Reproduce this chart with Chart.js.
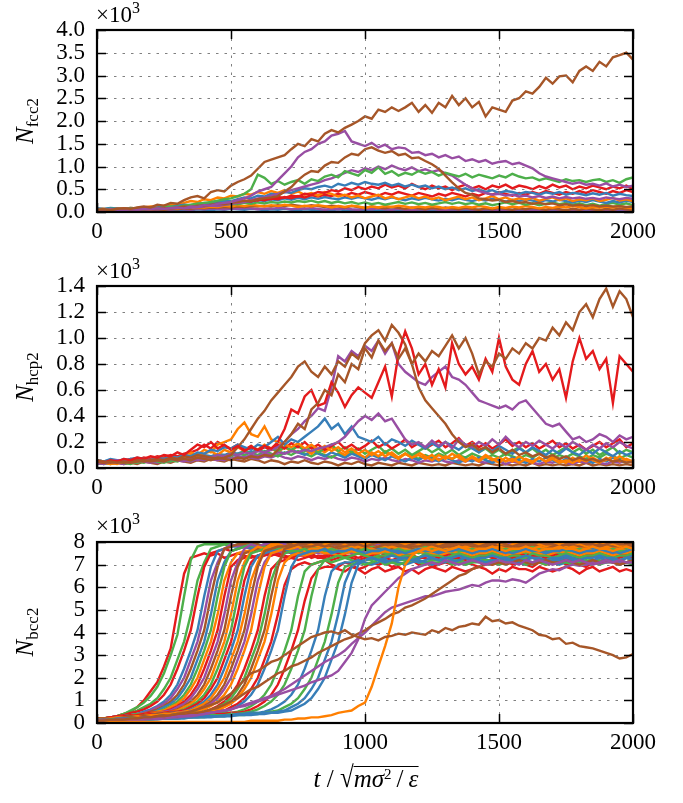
<!DOCTYPE html>
<html>
<head>
<meta charset="utf-8">
<script src="https://cdn.jsdelivr.net/npm/chart.js@4/dist/chart.umd.min.js"></script>
<style>
body{margin:0;background:#fff;}
#fig{position:relative;width:683px;height:803px;overflow:hidden;font-family:'Liberation Serif',serif;color:#000;background:#fff}
canvas{position:absolute;left:0}
.mult{position:absolute;left:96px;font-size:23px;line-height:23px;white-space:nowrap}
.mult .e{position:relative;top:-9px;font-size:16px}
.ylab{position:absolute;white-space:nowrap;transform:translate(-50%,-50%) rotate(-90deg);font-size:25px;line-height:25px}
.ylab .s{font-size:17px;position:relative;top:5px}
.xlab{position:absolute;left:366px;top:766px;transform:translateX(-50%);font-size:25px;line-height:25px;white-space:nowrap}
.xlab .r{display:inline-block;transform:scaleY(1.2);transform-origin:50% 85%}
.xlab .v{display:inline-block;border-top:1.5px solid #000;padding-top:0px;line-height:23px}
.xlab .e{position:relative;top:-8px;font-size:15px;font-style:normal}
</style>
</head>
<body>
<div id="fig">
<canvas id="c1" width="683" height="250" style="top:0"></canvas>
<canvas id="c2" width="683" height="250" style="top:250px"></canvas>
<canvas id="c3" width="683" height="303" style="top:500px"></canvas>
<div class="mult" style="top:3px">×10<span class="e">3</span></div>
<div class="mult" style="top:259px">×10<span class="e">3</span></div>
<div class="mult" style="top:514px">×10<span class="e">3</span></div>
<div class="ylab" style="left:26px;top:121px"><i>N</i><span class="s">fcc2</span></div>
<div class="ylab" style="left:26px;top:377px"><i>N</i><span class="s">hcp2</span></div>
<div class="ylab" style="left:26px;top:632px"><i>N</i><span class="s">bcc2</span></div>
<div class="xlab"><i>t</i> / <span class="r">√</span><span class="v"><i>mσ</i><span class="e">2</span>&#8201;/&#8201;<i>ε</i></span></div>
</div>
<script>
// ---------- categories / ticks ----------
const times = [0,25,50,75,100,125,150,175,200,225,250,275,300,325,350,375,400,425,450,475,
500,525,550,575,600,625,650,675,700,725,750,775,800,825,850,875,900,925,950,975,
1000,1025,1050,1075,1100,1125,1150,1175,1200,1225,1250,1275,1300,1325,1350,1375,1400,1425,1450,1475,
1500,1525,1550,1575,1600,1625,1650,1675,1700,1725,1750,1775,1800,1825,1850,1875,1900,1925,1950,1975,2000];
const xTickValues = [0,500,1000,1500,2000];
const fccTickValues = [0,0.5,1,1.5,2,2.5,3,3.5,4];
const hcpTickValues = [0,0.2,0.4,0.6,0.8,1.0,1.2,1.4];
const bccTickValues = [0,1,2,3,4,5,6,7,8];

// ---------- N_fcc2 (x10^3) ----------
const fccBrown1 = [0.05,0.06,0.04,0.07,0.08,0.07,0.10,0.12,0.10,0.16,
0.14,0.20,0.18,0.26,0.32,0.35,0.30,0.44,0.48,0.45,
0.58,0.66,0.72,0.80,0.95,1.10,1.15,1.20,1.25,1.38,
1.50,1.45,1.60,1.55,1.72,1.80,1.75,1.85,1.92,2.00,
2.10,2.05,2.25,2.20,2.30,2.22,2.30,2.40,2.20,2.35,
2.18,2.40,2.30,2.55,2.35,2.50,2.30,2.42,2.10,2.30,
2.25,2.20,2.45,2.50,2.65,2.60,2.75,2.95,2.82,2.98,
3.00,2.85,3.10,3.20,3.10,3.30,3.20,3.40,3.45,3.50,3.35];
const fccPurple1 = [0.05,0.04,0.06,0.05,0.04,0.06,0.05,0.07,0.06,0.08,
0.07,0.09,0.10,0.08,0.12,0.11,0.15,0.14,0.18,0.20,
0.22,0.26,0.30,0.36,0.45,0.50,0.55,0.70,0.85,1.00,
1.20,1.32,1.38,1.50,1.55,1.68,1.72,1.78,1.55,1.50,
1.45,1.52,1.42,1.48,1.38,1.42,1.40,1.30,1.32,1.25,
1.28,1.20,1.25,1.18,1.22,1.12,1.16,1.10,1.14,1.06,
1.10,1.12,1.05,1.08,1.02,0.96,0.85,0.78,0.74,0.70,
0.66,0.62,0.65,0.60,0.62,0.58,0.63,0.56,0.60,0.55,0.58];
const fccBrown2 = [0.04,0.05,0.03,0.05,0.06,0.05,0.07,0.06,0.08,0.07,
0.09,0.08,0.10,0.12,0.11,0.14,0.13,0.16,0.18,0.17,
0.20,0.22,0.25,0.24,0.28,0.30,0.32,0.35,0.45,0.55,
0.70,0.82,0.90,0.88,1.02,1.10,1.08,1.20,1.28,1.25,
1.38,1.42,1.35,1.30,1.34,1.25,1.28,1.18,1.20,1.12,
1.05,0.95,0.80,0.65,0.52,0.42,0.38,0.30,0.28,0.25,
0.27,0.22,0.24,0.20,0.22,0.18,0.20,0.17,0.19,0.15,
0.17,0.14,0.16,0.13,0.15,0.12,0.14,0.12,0.13,0.11,0.12];
const fccGreen1 = [0.06,0.05,0.07,0.06,0.05,0.07,0.08,0.06,0.09,0.08,
0.10,0.12,0.11,0.14,0.16,0.18,0.20,0.22,0.25,0.28,
0.30,0.35,0.40,0.50,0.82,0.75,0.62,0.68,0.60,0.66,
0.70,0.62,0.72,0.68,0.78,0.82,0.76,0.90,0.85,0.80,
0.92,0.86,0.98,0.84,0.90,0.80,0.86,0.82,0.90,0.84,
0.88,0.80,0.86,0.82,0.78,0.84,0.76,0.82,0.78,0.74,
0.80,0.76,0.84,0.78,0.74,0.76,0.70,0.74,0.70,0.66,
0.72,0.68,0.70,0.66,0.70,0.72,0.66,0.70,0.64,0.72,0.76];
const fccBlue1 = [0.07,0.06,0.08,0.07,0.06,0.08,0.07,0.09,0.08,0.10,
0.12,0.11,0.14,0.16,0.15,0.18,0.20,0.19,0.22,0.25,
0.24,0.28,0.32,0.30,0.36,0.34,0.40,0.38,0.44,0.42,
0.48,0.52,0.50,0.55,0.58,0.54,0.62,0.58,0.64,0.60,
0.66,0.62,0.60,0.64,0.58,0.62,0.56,0.60,0.55,0.58,
0.52,0.56,0.50,0.54,0.48,0.52,0.46,0.50,0.44,0.48,
0.42,0.46,0.44,0.40,0.44,0.42,0.38,0.43,0.40,0.44,
0.38,0.42,0.40,0.37,0.41,0.38,0.42,0.36,0.40,0.37,0.35];
const fccRed1 = [0.05,0.04,0.06,0.05,0.07,0.06,0.08,0.07,0.09,0.08,
0.11,0.10,0.13,0.12,0.15,0.14,0.17,0.16,0.19,0.21,
0.20,0.24,0.22,0.27,0.25,0.30,0.28,0.33,0.31,0.36,
0.34,0.40,0.38,0.44,0.42,0.48,0.45,0.52,0.48,0.55,
0.50,0.56,0.52,0.60,0.54,0.58,0.52,0.62,0.55,0.50,
0.58,0.52,0.56,0.48,0.55,0.60,0.52,0.57,0.50,0.58,
0.54,0.60,0.52,0.58,0.55,0.50,0.57,0.52,0.60,0.54,
0.58,0.50,0.56,0.52,0.58,0.54,0.50,0.56,0.52,0.58,0.50];
const fccPurple2 = [0.04,0.05,0.04,0.06,0.05,0.04,0.06,0.05,0.07,0.06,
0.08,0.07,0.09,0.10,0.09,0.11,0.12,0.14,0.13,0.16,
0.18,0.20,0.22,0.26,0.30,0.32,0.36,0.40,0.44,0.48,
0.52,0.56,0.60,0.64,0.70,0.74,0.80,0.86,0.92,0.88,
0.96,0.92,1.00,0.94,1.02,0.96,0.92,0.98,0.90,0.94,
0.88,0.92,0.85,0.80,0.70,0.60,0.52,0.46,0.42,0.38,
0.40,0.36,0.38,0.34,0.36,0.32,0.35,0.31,0.34,0.30,
0.33,0.30,0.32,0.29,0.31,0.28,0.32,0.30,0.28,0.31,0.29];
const fccOrange1 = [0.06,0.07,0.05,0.08,0.07,0.09,0.08,0.10,0.12,0.11,
0.14,0.16,0.15,0.20,0.24,0.22,0.28,0.26,0.32,0.30,
0.36,0.34,0.40,0.38,0.44,0.40,0.46,0.42,0.48,0.40,
0.45,0.38,0.42,0.36,0.44,0.40,0.34,0.38,0.32,0.36,
0.30,0.34,0.38,0.30,0.34,0.28,0.32,0.36,0.30,0.34,
0.28,0.32,0.26,0.30,0.34,0.28,0.32,0.26,0.30,0.35,
0.28,0.32,0.26,0.30,0.27,0.31,0.25,0.29,0.32,0.26,
0.30,0.24,0.28,0.26,0.30,0.24,0.27,0.31,0.25,0.28,0.24];
const fccRed2 = [0.05,0.06,0.05,0.07,0.06,0.08,0.07,0.09,0.08,0.10,
0.09,0.12,0.11,0.14,0.13,0.16,0.15,0.18,0.17,0.20,
0.22,0.20,0.25,0.23,0.28,0.26,0.30,0.28,0.33,0.30,
0.35,0.32,0.37,0.34,0.38,0.35,0.40,0.36,0.42,0.38,
0.44,0.40,0.36,0.42,0.38,0.44,0.40,0.36,0.42,0.38,
0.34,0.40,0.36,0.42,0.38,0.34,0.40,0.36,0.42,0.38,
0.44,0.40,0.36,0.42,0.38,0.44,0.40,0.46,0.42,0.38,
0.44,0.40,0.46,0.42,0.48,0.44,0.40,0.46,0.42,0.48,0.44];
const fccBlue2 = [0.08,0.07,0.09,0.08,0.07,0.09,0.08,0.10,0.09,0.11,
0.10,0.12,0.14,0.13,0.15,0.14,0.17,0.16,0.19,0.18,
0.21,0.20,0.24,0.22,0.26,0.24,0.28,0.26,0.30,0.27,
0.31,0.28,0.32,0.29,0.33,0.30,0.28,0.32,0.29,0.33,
0.30,0.27,0.31,0.28,0.32,0.29,0.26,0.30,0.27,0.31,
0.28,0.25,0.29,0.26,0.30,0.27,0.24,0.28,0.25,0.29,
0.26,0.23,0.27,0.24,0.28,0.25,0.22,0.26,0.23,0.27,
0.24,0.21,0.25,0.22,0.26,0.23,0.20,0.24,0.21,0.25,0.22];
const fccGreen2 = [0.06,0.05,0.07,0.06,0.08,0.07,0.09,0.08,0.10,0.09,
0.11,0.10,0.12,0.11,0.14,0.13,0.15,0.14,0.17,0.16,
0.18,0.17,0.20,0.18,0.21,0.19,0.22,0.20,0.23,0.21,
0.24,0.22,0.25,0.21,0.24,0.20,0.23,0.19,0.22,0.18,
0.21,0.17,0.20,0.16,0.19,0.22,0.18,0.21,0.17,0.20,
0.16,0.19,0.22,0.18,0.21,0.17,0.20,0.16,0.19,0.15,
0.18,0.21,0.17,0.20,0.16,0.19,0.15,0.18,0.21,0.17,
0.20,0.16,0.19,0.15,0.18,0.14,0.17,0.20,0.16,0.19,0.15];
const fccBrown3 = [0.03,0.04,0.03,0.05,0.04,0.05,0.04,0.06,0.05,0.06,
0.05,0.07,0.06,0.08,0.07,0.09,0.08,0.10,0.09,0.11,
0.10,0.12,0.11,0.13,0.12,0.14,0.12,0.15,0.13,0.16,
0.14,0.12,0.15,0.13,0.11,0.14,0.12,0.10,0.13,0.11,
0.09,0.12,0.10,0.08,0.11,0.09,0.07,0.10,0.08,0.06,
0.09,0.07,0.10,0.08,0.06,0.09,0.07,0.05,0.08,0.06,
0.09,0.07,0.05,0.08,0.06,0.09,0.07,0.05,0.08,0.06,
0.04,0.07,0.05,0.08,0.06,0.04,0.07,0.05,0.08,0.06,0.04];
const fccOrange2 = [0.05,0.04,0.06,0.05,0.07,0.06,0.05,0.07,0.06,0.08,
0.07,0.09,0.08,0.10,0.09,0.11,0.10,0.12,0.11,0.14,
0.12,0.15,0.13,0.16,0.14,0.12,0.15,0.13,0.16,0.14,
0.11,0.14,0.12,0.15,0.13,0.10,0.13,0.11,0.14,0.12,
0.09,0.12,0.10,0.13,0.11,0.14,0.12,0.09,0.12,0.10,
0.13,0.11,0.08,0.11,0.09,0.12,0.10,0.13,0.11,0.08,
0.11,0.09,0.12,0.10,0.13,0.11,0.08,0.11,0.09,0.12,
0.10,0.13,0.11,0.08,0.11,0.09,0.12,0.10,0.13,0.10,0.08];
const fccPurple3 = [0.04,0.03,0.05,0.04,0.03,0.05,0.04,0.06,0.05,0.04,
0.06,0.05,0.07,0.06,0.05,0.07,0.06,0.08,0.07,0.06,
0.08,0.07,0.09,0.08,0.06,0.08,0.07,0.09,0.08,0.06,
0.08,0.07,0.09,0.07,0.05,0.07,0.06,0.08,0.06,0.05,
0.07,0.06,0.08,0.06,0.05,0.07,0.05,0.04,0.06,0.05,
0.07,0.05,0.04,0.06,0.05,0.07,0.05,0.04,0.06,0.05,
0.03,0.05,0.04,0.06,0.05,0.03,0.05,0.04,0.06,0.04,
0.03,0.05,0.04,0.06,0.04,0.03,0.05,0.04,0.06,0.04,0.03];
const fccBlue3 = [0.02,0.03,0.02,0.03,0.02,0.04,0.03,0.02,0.04,0.03,
0.05,0.04,0.03,0.05,0.04,0.06,0.05,0.04,0.06,0.05,
0.07,0.06,0.05,0.07,0.06,0.04,0.06,0.05,0.07,0.05,
0.04,0.06,0.05,0.03,0.05,0.04,0.06,0.04,0.03,0.05,
0.04,0.02,0.04,0.03,0.05,0.03,0.02,0.04,0.03,0.05,
0.03,0.02,0.04,0.03,0.02,0.04,0.03,0.05,0.03,0.02,
0.04,0.03,0.02,0.04,0.03,0.05,0.03,0.02,0.04,0.03,
0.02,0.04,0.03,0.02,0.04,0.03,0.02,0.04,0.03,0.02,0.03];

// ---------- N_hcp2 (x10^3) ----------
const hcpBrown1 = [0.05,0.04,0.05,0.04,0.05,0.04,0.05,0.06,0.05,0.06,
0.05,0.07,0.06,0.07,0.06,0.08,0.07,0.06,0.08,0.07,
0.06,0.08,0.07,0.09,0.08,0.10,0.09,0.14,0.20,0.26,
0.34,0.30,0.45,0.50,0.60,0.56,0.72,0.66,0.80,0.76,
0.92,0.85,0.98,0.90,0.96,0.84,0.92,0.80,0.88,0.82,
0.90,0.86,0.94,1.02,0.92,1.00,0.88,0.72,0.82,0.78,
0.88,0.84,0.92,0.88,0.96,0.92,1.00,0.98,1.08,1.02,
1.12,1.06,1.20,1.26,1.16,1.30,1.38,1.24,1.36,1.30,1.16];
const hcpBrown2 = [0.06,0.05,0.04,0.05,0.04,0.05,0.06,0.05,0.06,0.07,
0.06,0.08,0.07,0.09,0.08,0.10,0.09,0.08,0.07,0.08,
0.10,0.16,0.22,0.30,0.38,0.44,0.52,0.58,0.64,0.70,
0.78,0.82,0.74,0.70,0.78,0.72,0.82,0.78,0.88,0.84,
0.96,1.02,1.06,0.98,1.10,1.04,0.95,0.80,0.62,0.52,
0.46,0.40,0.34,0.26,0.20,0.16,0.18,0.14,0.16,0.12,
0.15,0.11,0.14,0.10,0.12,0.09,0.11,0.08,0.10,0.07,
0.09,0.06,0.08,0.06,0.07,0.05,0.07,0.05,0.06,0.04,0.05];
const hcpRed1 = [0.05,0.04,0.06,0.05,0.07,0.06,0.08,0.07,0.09,0.08,
0.10,0.09,0.12,0.10,0.14,0.18,0.16,0.20,0.15,0.18,
0.14,0.17,0.13,0.16,0.14,0.17,0.15,0.20,0.30,0.45,
0.42,0.55,0.60,0.48,0.50,0.66,0.58,0.47,0.56,0.62,
0.58,0.54,0.66,0.78,0.55,0.88,1.05,0.92,0.72,0.80,
0.64,0.76,0.62,0.96,0.80,0.72,0.78,0.68,0.84,0.74,
1.00,0.78,0.68,0.64,0.80,0.90,0.74,0.80,0.68,0.76,
0.54,0.82,1.00,0.84,0.90,0.76,0.84,0.50,0.86,0.80,0.74];
const hcpPurple1 = [0.05,0.04,0.05,0.06,0.05,0.06,0.05,0.07,0.06,0.07,
0.06,0.08,0.07,0.06,0.08,0.07,0.09,0.08,0.10,0.09,
0.11,0.10,0.12,0.11,0.13,0.12,0.14,0.16,0.20,0.26,
0.30,0.36,0.40,0.46,0.44,0.62,0.86,0.82,0.90,0.86,
0.94,0.90,0.98,0.88,0.96,0.80,0.74,0.70,0.66,0.64,
0.70,0.74,0.78,0.70,0.68,0.64,0.58,0.52,0.50,0.48,
0.46,0.48,0.45,0.50,0.52,0.46,0.40,0.34,0.32,0.34,
0.28,0.22,0.24,0.20,0.22,0.26,0.24,0.20,0.25,0.22,0.24];
const hcpPurple2 = [0.04,0.03,0.05,0.04,0.05,0.04,0.06,0.05,0.04,0.06,
0.05,0.07,0.06,0.05,0.07,0.06,0.08,0.07,0.06,0.08,
0.07,0.09,0.08,0.10,0.09,0.11,0.10,0.12,0.11,0.13,
0.12,0.14,0.13,0.15,0.16,0.18,0.20,0.24,0.30,0.36,
0.40,0.37,0.42,0.36,0.38,0.30,0.22,0.18,0.20,0.16,
0.21,0.17,0.20,0.15,0.22,0.18,0.16,0.20,0.17,0.22,
0.18,0.24,0.19,0.16,0.20,0.17,0.21,0.18,0.15,0.19,
0.16,0.20,0.17,0.14,0.18,0.15,0.19,0.16,0.20,0.17,0.15];
const hcpBlue1 = [0.06,0.05,0.07,0.06,0.05,0.07,0.08,0.07,0.06,0.08,
0.07,0.09,0.08,0.10,0.09,0.12,0.11,0.14,0.13,0.16,
0.15,0.18,0.16,0.14,0.18,0.16,0.20,0.24,0.18,0.22,
0.20,0.24,0.28,0.32,0.38,0.30,0.34,0.26,0.32,0.24,
0.22,0.20,0.24,0.18,0.22,0.20,0.17,0.21,0.18,0.15,
0.19,0.16,0.20,0.17,0.14,0.18,0.15,0.12,0.16,0.13,
0.17,0.14,0.11,0.15,0.12,0.16,0.13,0.10,0.14,0.11,
0.15,0.12,0.10,0.14,0.11,0.15,0.12,0.09,0.13,0.10,0.12];
const hcpOrange1 = [0.05,0.04,0.03,0.04,0.05,0.06,0.05,0.07,0.06,0.08,
0.07,0.09,0.08,0.10,0.12,0.10,0.14,0.12,0.18,0.20,
0.22,0.30,0.35,0.26,0.24,0.32,0.22,0.20,0.18,0.16,
0.19,0.15,0.18,0.14,0.17,0.13,0.16,0.12,0.15,0.11,
0.14,0.10,0.13,0.09,0.12,0.08,0.11,0.08,0.10,0.07,
0.10,0.06,0.09,0.07,0.10,0.06,0.08,0.05,0.09,0.06,
0.08,0.05,0.07,0.04,0.07,0.05,0.08,0.05,0.07,0.04,
0.06,0.04,0.07,0.05,0.08,0.05,0.06,0.09,0.05,0.07,0.05];
const hcpRed2 = [0.04,0.05,0.04,0.06,0.05,0.07,0.06,0.08,0.07,0.09,
0.08,0.10,0.09,0.11,0.12,0.14,0.18,0.15,0.20,0.17,
0.15,0.18,0.14,0.17,0.13,0.16,0.14,0.18,0.15,0.19,
0.16,0.20,0.15,0.18,0.14,0.17,0.20,0.15,0.18,0.14,
0.17,0.21,0.16,0.19,0.15,0.18,0.22,0.16,0.19,0.15,
0.18,0.21,0.16,0.19,0.23,0.17,0.20,0.16,0.19,0.15,
0.18,0.22,0.17,0.20,0.16,0.19,0.15,0.18,0.21,0.16,
0.19,0.15,0.18,0.14,0.17,0.20,0.16,0.19,0.22,0.16,0.19];
const hcpGreen1 = [0.05,0.04,0.05,0.04,0.06,0.05,0.04,0.06,0.05,0.07,
0.06,0.05,0.07,0.06,0.08,0.07,0.09,0.08,0.10,0.09,
0.11,0.10,0.13,0.11,0.14,0.12,0.15,0.13,0.16,0.14,
0.17,0.13,0.16,0.12,0.15,0.18,0.13,0.16,0.12,0.15,
0.11,0.14,0.17,0.12,0.15,0.11,0.14,0.10,0.13,0.16,
0.12,0.15,0.11,0.14,0.10,0.13,0.16,0.12,0.15,0.11,
0.14,0.10,0.13,0.16,0.12,0.15,0.11,0.14,0.10,0.13,
0.16,0.12,0.15,0.11,0.14,0.10,0.13,0.16,0.11,0.14,0.12];
const hcpOrange2 = [0.04,0.05,0.04,0.03,0.05,0.04,0.06,0.05,0.07,0.06,
0.08,0.07,0.09,0.08,0.10,0.09,0.11,0.13,0.10,0.14,
0.12,0.16,0.13,0.17,0.14,0.18,0.15,0.12,0.16,0.13,
0.17,0.14,0.11,0.15,0.12,0.16,0.13,0.10,0.14,0.11,
0.08,0.12,0.09,0.13,0.10,0.07,0.11,0.08,0.12,0.09,
0.06,0.10,0.07,0.11,0.08,0.05,0.09,0.06,0.10,0.07,
0.04,0.08,0.05,0.09,0.06,0.04,0.08,0.05,0.09,0.06,
0.04,0.08,0.05,0.10,0.06,0.04,0.08,0.05,0.09,0.06,0.04];
const hcpBlue2 = [0.06,0.05,0.06,0.05,0.07,0.06,0.05,0.07,0.06,0.08,
0.07,0.06,0.08,0.07,0.09,0.08,0.10,0.09,0.11,0.10,
0.12,0.11,0.13,0.12,0.14,0.12,0.15,0.13,0.11,0.14,
0.12,0.10,0.13,0.11,0.09,0.12,0.10,0.08,0.11,0.09,
0.07,0.10,0.08,0.06,0.09,0.07,0.05,0.08,0.06,0.09,
0.07,0.05,0.08,0.06,0.04,0.07,0.05,0.08,0.06,0.04,
0.07,0.05,0.08,0.06,0.04,0.07,0.05,0.08,0.06,0.04,
0.07,0.05,0.08,0.06,0.04,0.07,0.05,0.08,0.06,0.04,0.06];
const hcpGreen2 = [0.04,0.03,0.04,0.05,0.04,0.03,0.05,0.04,0.06,0.05,
0.04,0.06,0.05,0.07,0.06,0.08,0.07,0.09,0.08,0.10,
0.09,0.11,0.10,0.12,0.10,0.13,0.11,0.09,0.12,0.10,
0.13,0.11,0.09,0.12,0.10,0.08,0.11,0.09,0.12,0.10,
0.08,0.11,0.09,0.12,0.10,0.08,0.11,0.09,0.07,0.10,
0.08,0.11,0.09,0.07,0.10,0.08,0.11,0.09,0.07,0.10,
0.08,0.11,0.09,0.07,0.10,0.08,0.11,0.09,0.07,0.10,
0.08,0.11,0.09,0.07,0.10,0.08,0.11,0.09,0.07,0.10,0.08];
const hcpPurple3 = [0.03,0.04,0.05,0.04,0.03,0.05,0.04,0.06,0.05,0.04,
0.06,0.05,0.07,0.06,0.05,0.07,0.06,0.08,0.07,0.06,
0.08,0.07,0.09,0.08,0.07,0.09,0.08,0.10,0.08,0.07,
0.09,0.08,0.06,0.08,0.07,0.09,0.07,0.06,0.08,0.07,
0.05,0.07,0.06,0.08,0.06,0.05,0.07,0.06,0.04,0.06,
0.05,0.07,0.05,0.04,0.06,0.05,0.07,0.05,0.04,0.06,
0.05,0.03,0.05,0.04,0.06,0.04,0.03,0.05,0.04,0.06,
0.04,0.03,0.05,0.04,0.06,0.04,0.03,0.05,0.04,0.06,0.04];
const hcpBrown3 = [0.03,0.04,0.03,0.04,0.03,0.04,0.03,0.05,0.04,0.03,
0.05,0.04,0.06,0.05,0.04,0.06,0.05,0.07,0.06,0.05,
0.07,0.06,0.05,0.07,0.06,0.04,0.06,0.05,0.03,0.05,
0.04,0.06,0.04,0.03,0.05,0.04,0.02,0.04,0.03,0.05,
0.03,0.02,0.04,0.03,0.02,0.04,0.03,0.02,0.04,0.03,
0.02,0.03,0.02,0.04,0.03,0.02,0.03,0.02,0.04,0.03,
0.02,0.03,0.02,0.03,0.02,0.04,0.02,0.03,0.02,0.03,
0.02,0.03,0.02,0.04,0.02,0.03,0.02,0.03,0.02,0.03,0.02];

// ---------- N_bcc2 (x10^3) ----------
const bccBrownSlowA = [0.1,0.1,0.15,0.15,0.15,0.2,0.2,0.25,0.25,0.3,
0.3,0.35,0.4,0.45,0.5,0.6,0.7,0.8,0.9,1.1,
1.3,1.6,1.9,2.2,2.3,2.5,2.7,2.8,3.0,3.2,
3.4,3.6,3.8,3.9,4.0,4.05,3.95,4.1,3.9,3.8,
3.7,3.75,3.65,3.8,3.85,3.95,3.9,4.0,3.95,3.9,
4.1,4.0,4.2,4.1,4.25,4.3,4.4,4.35,4.7,4.5,
4.55,4.4,4.45,4.3,4.2,4.1,3.9,3.85,3.7,3.75,
3.5,3.55,3.4,3.35,3.3,3.2,3.1,3.0,2.85,2.9,3.05];
const bccBrownSlowB = [0.1,0.1,0.1,0.15,0.15,0.15,0.2,0.2,0.2,0.25,
0.25,0.3,0.3,0.35,0.4,0.45,0.5,0.6,0.7,0.8,
0.95,1.1,1.3,1.5,1.6,1.8,2.0,2.2,2.3,2.5,
2.6,2.75,2.9,3.1,3.25,3.4,3.55,3.7,3.8,3.95,
4.1,4.3,4.45,4.6,4.8,4.9,5.1,5.2,5.35,5.5,
5.7,5.9,6.1,6.3,6.5,6.6,6.8,6.9,7.0,7.0,
7.1,7.0,7.1,7.2,7.1,7.0,7.1,7.2,7.1,7.1,
7.2,7.1,7.0,7.1,7.2,7.1,7.2,7.1,7.0,7.1,7.2];
const bccPurpleSlowA = [0.1,0.1,0.1,0.15,0.15,0.15,0.15,0.2,0.2,0.2,
0.25,0.25,0.3,0.3,0.35,0.35,0.4,0.45,0.5,0.55,
0.6,0.7,0.75,0.85,0.95,1.05,1.15,1.25,1.35,1.45,
1.55,1.65,1.8,1.9,2.0,2.1,2.3,2.7,3.1,3.7,
4.6,5.2,5.5,5.8,6.1,6.4,6.6,6.8,6.9,7.0,
7.1,7.0,7.2,7.1,7.0,7.1,7.2,7.1,7.0,7.1,
7.2,7.1,7.1,7.0,7.2,7.1,7.2,7.1,7.0,7.1,
7.2,7.1,7.2,7.1,7.0,7.1,7.2,7.1,7.2,7.1,7.1];
const bccPurpleSlowB = [0.1,0.1,0.1,0.1,0.15,0.15,0.15,0.15,0.2,0.2,
0.2,0.25,0.25,0.3,0.3,0.35,0.4,0.45,0.5,0.55,
0.6,0.7,0.8,0.9,1.0,1.1,1.2,1.35,1.5,1.7,
1.9,2.1,2.3,2.5,2.7,2.85,3.0,3.2,3.5,3.75,
4.0,4.3,4.6,4.9,5.1,5.2,5.3,5.4,5.5,5.6,
5.6,5.7,5.8,5.85,5.9,6.0,6.1,6.05,6.2,6.3,
6.3,6.25,6.35,6.3,6.2,6.4,6.6,6.7,6.8,6.75,
6.9,7.0,6.95,7.0,7.1,7.05,7.1,7.1,7.05,7.1,7.1];
const bccOrangeLate = [0.05,0.05,0.05,0.05,0.05,0.05,0.05,0.05,0.05,0.05,
0.05,0.05,0.05,0.05,0.05,0.05,0.05,0.05,0.05,0.05,
0.05,0.05,0.05,0.1,0.1,0.1,0.1,0.1,0.15,0.15,
0.2,0.2,0.25,0.25,0.3,0.35,0.45,0.5,0.55,0.75,
0.9,1.6,2.5,3.4,4.4,6.0,7.0,7.4,7.6,7.7,
7.6,7.7,7.6,7.7,7.8,7.7,7.6,7.7,7.7,7.8,
7.7,7.6,7.7,7.7,7.8,7.7,7.6,7.7,7.7,7.8,
7.7,7.7,7.6,7.7,7.8,7.7,7.7,7.6,7.7,7.8,7.7];
const bcc01 = [0.15,0.15,0.2,0.3,0.4,0.5,0.7,1.0,1.4,1.8,2.5,3.3,5.0,6.6,7.3,7.4,
7.5,7.4,7.5,7.3,7.4,7.5,7.4,7.3,7.4,7.5,
7.4,7.5,7.4,7.3,7.4,7.4,7.5,7.3,7.4,7.5,
7.4,7.3,7.4,7.5,7.4,7.4,7.3,7.5,7.4,7.4,
7.5,7.4,7.3,7.4,7.5,7.4,7.3,7.4,7.4,7.5,
7.4,7.3,7.4,7.5,7.4,7.4,7.3,7.4,7.5,7.4,
7.4,7.3,7.5,7.4,7.4,7.5,7.3,7.4,7.4,7.5,
7.4,7.3,7.4,7.5,7.4];
const bcc02 = [0.15,0.2,0.25,0.3,0.4,0.55,0.7,0.9,1.2,1.6,2.2,3.0,3.9,5.6,7.2,7.8,
7.9,7.9,7.9,7.9,7.8,7.9,8.0,7.9,7.9,7.8,
7.9,7.9,7.9,8.0,7.9,7.8,7.9,7.9,7.9,7.8,
7.9,8.0,7.9,7.9,7.8,7.9,7.9,8.0,7.9,7.9,
7.8,7.9,7.9,7.9,8.0,7.9,7.8,7.9,7.9,7.9,
7.8,7.9,7.9,8.0,7.9,7.9,7.8,7.9,7.9,7.9,
8.0,7.9,7.9,7.8,7.9,7.9,7.9,8.0,7.9,7.8,
7.9,7.9,7.9,7.8,7.9];
const bcc03 = [0.15,0.2,0.25,0.3,0.4,0.45,0.55,0.7,0.85,1.1,1.5,2.0,2.8,3.6,4.8,6.3,7.1,7.7,
7.8,7.9,7.9,7.8,7.9,7.8,7.8,7.9,7.9,7.8,
7.9,7.8,7.9,7.9,7.8,7.8,7.9,7.8,7.9,7.9,
7.8,7.9,7.8,7.8,7.9,7.9,7.8,7.9,7.8,7.9,
7.9,7.8,7.8,7.9,7.8,7.9,7.9,7.8,7.9,7.8,
7.8,7.9,7.9,7.8,7.9,7.8,7.8,7.9,7.8,7.9,
7.9,7.8,7.9,7.8,7.8,7.9,7.9,7.8,7.9,7.8,
7.9,7.8,7.9];
const bcc04 = [0.2,0.2,0.25,0.3,0.35,0.45,0.5,0.6,0.75,0.95,1.25,1.7,2.4,3.2,4.1,5.6,6.9,7.5,7.6,
7.7,7.6,7.7,7.8,7.7,7.6,7.7,7.7,7.8,7.6,
7.7,7.7,7.6,7.8,7.7,7.6,7.7,7.8,7.7,7.7,
7.6,7.7,7.8,7.7,7.6,7.7,7.7,7.8,7.7,7.6,
7.7,7.8,7.7,7.6,7.7,7.7,7.8,7.6,7.7,7.7,
7.8,7.7,7.6,7.7,7.7,7.8,7.7,7.6,7.7,7.8,
7.7,7.6,7.7,7.7,7.8,7.7,7.6,7.7,7.7,7.8,
7.7,7.6];
const bcc05 = [0.15,0.2,0.2,0.25,0.3,0.35,0.4,0.5,0.6,0.75,0.95,1.25,1.7,2.4,3.2,4.1,5.6,6.9,7.6,7.7,
7.8,7.8,7.9,7.7,7.8,7.8,7.9,7.8,7.7,7.8,
7.8,7.9,7.8,7.8,7.7,7.8,7.9,7.8,7.8,7.7,
7.8,7.8,7.9,7.8,7.7,7.8,7.8,7.9,7.8,7.8,
7.7,7.8,7.9,7.8,7.8,7.7,7.8,7.8,7.9,7.8,
7.8,7.7,7.8,7.9,7.8,7.8,7.7,7.8,7.8,7.9,
7.8,7.7,7.8,7.8,7.9,7.8,7.8,7.7,7.8,7.9,
7.8];
const bcc06 = [0.2,0.2,0.25,0.3,0.3,0.35,0.4,0.45,0.55,0.7,0.85,1.1,1.5,2.0,2.8,3.6,4.8,6.3,7.1,7.7,
7.9,7.8,7.9,7.9,7.8,7.9,7.8,7.9,7.9,7.8,
7.9,7.9,7.8,7.9,7.8,7.9,7.9,7.8,7.9,7.9,
7.8,7.9,7.9,7.8,7.9,7.8,7.9,7.9,7.8,7.9,
7.9,7.8,7.9,7.8,7.9,7.9,7.8,7.9,7.9,7.8,
7.9,7.8,7.9,7.9,7.8,7.9,7.9,7.8,7.9,7.8,
7.9,7.9,7.8,7.9,7.9,7.8,7.9,7.8,7.9,7.9,
7.8];
const bcc07 = [0.15,0.15,0.2,0.25,0.3,0.3,0.35,0.4,0.5,0.6,0.75,0.95,1.25,1.7,2.4,3.2,4.1,5.6,6.9,7.7,7.8,
7.9,7.9,8.0,7.9,7.8,7.9,7.9,8.0,7.9,7.9,
7.8,7.9,8.0,7.9,7.9,7.9,7.8,7.9,8.0,7.9,
7.9,7.8,7.9,7.9,8.0,7.9,7.9,7.8,7.9,7.9,
8.0,7.9,7.8,7.9,7.9,7.9,8.0,7.9,7.9,7.8,
7.9,7.9,8.0,7.9,7.9,7.8,7.9,8.0,7.9,7.9,
7.9,7.8,7.9,8.0,7.9,7.9,7.8,7.9,7.9,8.0];
const bcc08 = [0.15,0.2,0.2,0.25,0.3,0.35,0.35,0.4,0.45,0.55,0.7,0.85,1.1,1.5,2.0,2.8,3.6,4.8,6.3,7.1,7.6,
7.7,7.8,7.7,7.6,7.7,7.7,7.8,7.7,7.6,7.7,
7.8,7.7,7.7,7.6,7.7,7.8,7.7,7.7,7.6,7.7,
7.7,7.8,7.6,7.7,7.7,7.8,7.7,7.6,7.7,7.7,
7.8,7.7,7.7,7.6,7.7,7.8,7.7,7.7,7.6,7.8,
7.7,7.7,7.6,7.7,7.8,7.7,7.7,7.6,7.7,7.7,
7.8,7.7,7.6,7.7,7.7,7.8,7.7,7.6,7.7,7.7];
const bcc09 = [0.2,0.2,0.25,0.25,0.3,0.35,0.4,0.4,0.45,0.5,0.6,0.75,0.95,1.25,1.7,2.4,3.2,4.1,5.6,6.9,7.6,7.7,
7.8,7.9,7.8,7.8,7.7,7.8,7.9,7.8,7.8,7.7,
7.8,7.8,7.9,7.8,7.7,7.8,7.8,7.9,7.8,7.8,
7.7,7.8,7.9,7.8,7.8,7.7,7.8,7.8,7.9,7.8,
7.8,7.7,7.8,7.9,7.8,7.8,7.7,7.8,7.8,7.9,
7.8,7.7,7.8,7.8,7.9,7.8,7.8,7.7,7.8,7.9,
7.8,7.8,7.7,7.8,7.8,7.9,7.8,7.7,7.8];
const bcc10 = [0.15,0.2,0.2,0.25,0.3,0.3,0.35,0.4,0.45,0.5,0.55,0.7,0.85,1.1,1.5,2.0,2.8,3.6,4.8,6.3,7.1,7.5,
7.6,7.6,7.7,7.5,7.6,7.6,7.7,7.6,7.5,7.6,
7.7,7.6,7.6,7.5,7.6,7.7,7.6,7.6,7.5,7.6,
7.6,7.7,7.6,7.5,7.6,7.6,7.7,7.6,7.6,7.5,
7.6,7.7,7.6,7.6,7.5,7.6,7.6,7.7,7.6,7.5,
7.6,7.6,7.7,7.6,7.6,7.5,7.6,7.7,7.6,7.6,
7.5,7.6,7.6,7.7,7.6,7.5,7.6,7.6,7.7];
const bcc11 = [0.2,0.2,0.25,0.3,0.3,0.35,0.35,0.4,0.45,0.45,0.5,0.6,0.75,0.95,1.25,1.7,2.4,3.2,4.1,5.6,6.9,7.2,7.3,
7.4,7.3,7.4,7.5,7.4,7.3,7.4,7.4,7.5,7.3,
7.4,7.4,7.3,7.5,7.4,7.4,7.3,7.4,7.5,7.4,
7.3,7.4,7.4,7.5,7.4,7.3,7.4,7.4,7.3,7.5,
7.4,7.4,7.3,7.4,7.5,7.4,7.3,7.4,7.4,7.5,
7.4,7.3,7.4,7.4,7.5,7.3,7.4,7.4,7.3,7.4,
7.5,7.4,7.3,7.4,7.4,7.5,7.4,7.3];
const bcc12 = [0.15,0.15,0.2,0.2,0.25,0.3,0.3,0.35,0.4,0.45,0.5,0.55,0.7,0.85,1.1,1.5,2.0,2.8,3.6,4.8,6.3,7.1,7.7,
7.9,7.8,7.9,8.0,7.9,7.9,7.8,7.9,7.9,8.0,
7.9,7.8,7.9,7.9,8.0,7.9,7.9,7.8,7.9,7.9,
8.0,7.9,7.8,7.9,7.9,7.9,8.0,7.9,7.8,7.9,
7.9,8.0,7.9,7.9,7.8,7.9,7.9,8.0,7.9,7.9,
7.8,7.9,8.0,7.9,7.9,7.8,7.9,7.9,8.0,7.9,
7.9,7.8,7.9,7.9,8.0,7.9,7.8,7.9];
const bcc13 = [0.15,0.2,0.2,0.25,0.25,0.3,0.35,0.35,0.4,0.45,0.45,0.5,0.6,0.75,0.95,1.25,1.7,2.4,3.2,4.1,5.6,6.9,7.5,7.6,
7.7,7.7,7.8,7.6,7.7,7.7,7.8,7.7,7.6,7.7,
7.7,7.8,7.7,7.7,7.6,7.7,7.8,7.7,7.7,7.6,
7.7,7.7,7.8,7.7,7.6,7.7,7.7,7.8,7.7,7.7,
7.6,7.7,7.8,7.7,7.7,7.6,7.7,7.7,7.8,7.7,
7.6,7.7,7.7,7.8,7.7,7.7,7.6,7.7,7.8,7.7,
7.7,7.6,7.7,7.7,7.8,7.7,7.6];
const bcc14 = [0.2,0.2,0.2,0.25,0.3,0.3,0.35,0.35,0.4,0.45,0.45,0.5,0.55,0.7,0.85,1.1,1.5,2.0,2.8,3.6,4.8,6.3,7.1,7.6,
7.8,7.7,7.8,7.9,7.8,7.8,7.7,7.8,7.8,7.9,
7.8,7.7,7.8,7.8,7.9,7.8,7.8,7.7,7.8,7.8,
7.9,7.8,7.7,7.8,7.8,7.8,7.9,7.8,7.7,7.8,
7.8,7.9,7.8,7.8,7.7,7.8,7.8,7.9,7.8,7.8,
7.7,7.8,7.9,7.8,7.8,7.7,7.8,7.8,7.9,7.8,
7.8,7.7,7.8,7.8,7.9,7.8,7.7];
const bcc15 = [0.15,0.15,0.2,0.2,0.25,0.25,0.3,0.3,0.35,0.4,0.4,0.45,0.5,0.6,0.75,0.95,1.25,1.7,2.4,3.2,4.1,5.6,6.9,7.5,7.6,
7.7,7.6,7.7,7.8,7.7,7.7,7.6,7.7,7.8,7.7,
7.7,7.6,7.7,7.7,7.8,7.7,7.6,7.7,7.7,7.8,
7.7,7.7,7.6,7.7,7.8,7.7,7.7,7.6,7.7,7.7,
7.8,7.7,7.6,7.7,7.7,7.8,7.7,7.7,7.6,7.7,
7.8,7.7,7.7,7.6,7.7,7.7,7.8,7.7,7.6,7.7,
7.7,7.8,7.7,7.6,7.7,7.7];
const bcc16 = [0.2,0.2,0.25,0.25,0.3,0.3,0.35,0.35,0.4,0.4,0.45,0.5,0.5,0.55,0.7,0.85,1.1,1.5,2.0,2.8,3.6,4.8,6.3,7.1,7.4,
7.5,7.4,7.5,7.6,7.5,7.5,7.4,7.5,7.6,7.5,
7.4,7.5,7.5,7.6,7.5,7.4,7.5,7.5,7.6,7.5,
7.5,7.4,7.5,7.6,7.5,7.5,7.4,7.5,7.5,7.6,
7.5,7.4,7.5,7.5,7.6,7.5,7.5,7.4,7.5,7.6,
7.5,7.5,7.4,7.5,7.5,7.6,7.5,7.4,7.5,7.5,
7.6,7.5,7.5,7.4,7.5,7.5];
const bcc17 = [0.15,0.2,0.2,0.2,0.25,0.3,0.3,0.3,0.35,0.4,0.4,0.45,0.45,0.5,0.6,0.75,0.95,1.25,1.7,2.4,3.2,4.1,5.6,6.9,7.4,7.5,
7.6,7.6,7.7,7.5,7.6,7.6,7.7,7.6,7.5,7.6,
7.6,7.7,7.6,7.6,7.5,7.6,7.7,7.6,7.6,7.5,
7.6,7.6,7.7,7.6,7.5,7.6,7.6,7.7,7.6,7.6,
7.5,7.6,7.7,7.6,7.6,7.5,7.6,7.6,7.7,7.6,
7.5,7.6,7.6,7.7,7.6,7.6,7.5,7.6,7.7,7.6,
7.6,7.5,7.6,7.6,7.7];
const bcc18 = [0.15,0.15,0.2,0.2,0.2,0.25,0.25,0.3,0.3,0.35,0.4,0.4,0.45,0.5,0.55,0.7,0.85,1.1,1.5,2.0,2.8,3.6,4.8,6.3,7.1,7.7,
7.9,7.9,7.8,7.9,8.0,7.9,7.9,7.8,7.9,7.9,
8.0,7.9,7.8,7.9,7.9,7.9,8.0,7.9,7.8,7.9,
7.9,8.0,7.9,7.9,7.8,7.9,7.9,8.0,7.9,7.8,
7.9,7.9,7.9,8.0,7.9,7.8,7.9,7.9,8.0,7.9,
7.9,7.8,7.9,7.9,8.0,7.9,7.8,7.9,7.9,7.9,
8.0,7.9,7.8,7.9,7.9];
const bcc19 = [0.2,0.2,0.2,0.25,0.25,0.3,0.3,0.35,0.35,0.4,0.4,0.45,0.45,0.45,0.5,0.6,0.75,0.95,1.25,1.7,2.4,3.2,4.1,5.6,6.9,7.6,7.7,
7.8,7.8,7.9,7.7,7.8,7.8,7.9,7.8,7.7,7.8,
7.8,7.9,7.8,7.8,7.7,7.8,7.9,7.8,7.8,7.7,
7.8,7.8,7.9,7.8,7.7,7.8,7.8,7.9,7.8,7.8,
7.7,7.8,7.9,7.8,7.8,7.7,7.8,7.8,7.9,7.8,
7.7,7.8,7.8,7.9,7.8,7.8,7.7,7.8,7.9,7.8,
7.8,7.7,7.8,7.8];
const bcc20 = [0.15,0.15,0.2,0.2,0.25,0.25,0.3,0.3,0.3,0.35,0.35,0.4,0.45,0.45,0.5,0.55,0.7,0.85,1.1,1.5,2.0,2.8,3.6,4.8,6.3,7.1,7.5,
7.6,7.5,7.6,7.7,7.6,7.6,7.5,7.6,7.7,7.6,
7.6,7.5,7.6,7.6,7.7,7.6,7.5,7.6,7.6,7.7,
7.6,7.6,7.5,7.6,7.7,7.6,7.6,7.5,7.6,7.6,
7.7,7.6,7.5,7.6,7.6,7.7,7.6,7.6,7.5,7.6,
7.7,7.6,7.6,7.5,7.6,7.6,7.7,7.6,7.5,7.6,
7.6,7.7,7.6,7.5];
const bcc21 = [0.2,0.2,0.2,0.25,0.25,0.25,0.3,0.3,0.35,0.35,0.4,0.4,0.45,0.45,0.45,0.5,0.6,0.75,0.95,1.25,1.7,2.4,3.2,4.1,5.6,6.9,7.5,7.6,
7.7,7.7,7.8,7.6,7.7,7.7,7.8,7.7,7.6,7.7,
7.7,7.8,7.7,7.7,7.6,7.7,7.8,7.7,7.7,7.6,
7.7,7.7,7.8,7.7,7.6,7.7,7.7,7.8,7.7,7.7,
7.6,7.7,7.8,7.7,7.7,7.6,7.7,7.7,7.8,7.7,
7.6,7.7,7.7,7.8,7.7,7.7,7.6,7.7,7.8,7.7,
7.7,7.6,7.7];
const bcc22 = [0.15,0.15,0.2,0.2,0.2,0.25,0.25,0.3,0.3,0.3,0.35,0.35,0.4,0.4,0.45,0.45,0.5,0.6,0.75,0.95,1.25,1.7,2.4,3.2,4.1,5.6,6.8,7.1,7.2,
7.3,7.2,7.3,7.4,7.3,7.3,7.2,7.3,7.4,7.3,
7.2,7.3,7.3,7.4,7.3,7.2,7.3,7.3,7.4,7.3,
7.3,7.2,7.3,7.4,7.3,7.3,7.2,7.3,7.3,7.4,
7.3,7.2,7.3,7.3,7.4,7.3,7.3,7.2,7.3,7.4,
7.3,7.3,7.2,7.3,7.3,7.4,7.3,7.2,7.3,7.3,
7.4,7.3];
const bcc23 = [0.15,0.15,0.15,0.2,0.2,0.25,0.25,0.25,0.3,0.3,0.35,0.35,0.4,0.4,0.45,0.45,0.5,0.55,0.7,0.85,1.1,1.5,2.0,2.8,3.6,4.8,6.3,7.1,7.5,
7.6,7.6,7.7,7.5,7.6,7.6,7.7,7.6,7.5,7.6,
7.6,7.7,7.6,7.6,7.5,7.6,7.7,7.6,7.6,7.5,
7.6,7.6,7.7,7.6,7.5,7.6,7.6,7.7,7.6,7.6,
7.5,7.6,7.7,7.6,7.6,7.5,7.6,7.6,7.7,7.6,
7.5,7.6,7.6,7.7,7.6,7.6,7.5,7.6,7.7,7.6,
7.6,7.5];
const bcc24 = [0.2,0.2,0.2,0.2,0.25,0.25,0.25,0.3,0.3,0.3,0.35,0.35,0.35,0.4,0.4,0.45,0.45,0.5,0.6,0.75,0.95,1.25,1.7,2.4,3.2,4.1,5.6,6.9,7.7,7.8,
7.9,7.9,8.0,7.9,7.8,7.9,7.9,8.0,7.9,7.9,
7.8,7.9,8.0,7.9,7.9,7.9,7.8,7.9,8.0,7.9,
7.9,7.8,7.9,7.9,8.0,7.9,7.9,7.8,7.9,7.9,
8.0,7.9,7.8,7.9,7.9,7.9,8.0,7.9,7.9,7.8,
7.9,7.9,8.0,7.9,7.9,7.8,7.9,8.0,7.9,7.9,
7.9];
const bcc25 = [0.15,0.15,0.2,0.2,0.2,0.2,0.25,0.25,0.3,0.3,0.3,0.35,0.35,0.4,0.4,0.45,0.45,0.5,0.55,0.7,0.85,1.1,1.5,2.0,2.8,3.6,4.8,6.3,7.1,7.4,
7.5,7.4,7.5,7.6,7.5,7.5,7.4,7.5,7.6,7.5,
7.4,7.5,7.5,7.6,7.5,7.4,7.5,7.5,7.6,7.5,
7.5,7.4,7.5,7.6,7.5,7.5,7.4,7.5,7.5,7.6,
7.5,7.4,7.5,7.5,7.6,7.5,7.5,7.4,7.5,7.6,
7.5,7.5,7.4,7.5,7.5,7.6,7.5,7.4,7.5,7.5,
7.6];
const bcc26 = [0.1,0.15,0.15,0.15,0.2,0.2,0.2,0.25,0.25,0.3,0.3,0.3,0.35,0.35,0.4,0.4,0.45,0.45,0.5,0.55,0.7,0.85,1.1,1.5,2.0,2.8,3.6,4.8,6.1,6.8,7.0,
7.1,7.0,7.1,7.2,7.0,6.9,7.1,7.0,6.8,6.9,
7.1,7.0,7.1,6.9,7.0,7.1,7.2,7.0,7.1,6.9,
7.0,7.1,7.0,7.2,7.1,7.0,6.9,7.1,7.0,7.1,
7.2,7.0,7.1,7.0,6.9,7.1,7.0,7.1,7.2,7.0,
7.1,7.0,6.9,7.1,7.0,7.2,7.1,7.0,7.1,7.2];
const bcc27 = [0.15,0.15,0.15,0.2,0.2,0.2,0.2,0.25,0.25,0.25,0.3,0.3,0.3,0.35,0.35,0.4,0.4,0.45,0.45,0.5,0.6,0.75,0.95,1.25,1.7,2.4,3.2,4.1,5.6,6.9,7.4,7.5,
7.6,7.6,7.7,7.5,7.6,7.6,7.7,7.6,7.5,7.6,
7.6,7.7,7.6,7.6,7.5,7.6,7.7,7.6,7.6,7.5,
7.6,7.6,7.7,7.6,7.5,7.6,7.6,7.7,7.6,7.6,
7.5,7.6,7.7,7.6,7.6,7.5,7.6,7.6,7.7,7.6,
7.5,7.6,7.6,7.7,7.6,7.6,7.5,7.6,7.7];
const bcc28 = [0.1,0.1,0.15,0.15,0.15,0.2,0.2,0.2,0.2,0.25,0.25,0.25,0.3,0.3,0.3,0.35,0.35,0.4,0.4,0.45,0.45,0.5,0.6,0.75,0.95,1.25,1.7,2.4,3.2,4.1,5.6,6.7,7.0,7.1,
7.2,7.1,7.2,7.3,7.2,7.1,7.2,7.2,7.3,7.2,
7.1,7.2,7.2,7.3,7.2,7.1,7.2,7.2,7.3,7.2,
7.2,7.1,7.2,7.3,7.2,7.2,7.1,7.2,7.2,7.3,
7.2,7.1,7.2,7.2,7.3,7.2,7.2,7.1,7.2,7.3,
7.2,7.2,7.1,7.2,7.2,7.3,7.2];
const bcc29 = [0.1,0.1,0.1,0.15,0.15,0.15,0.2,0.2,0.2,0.2,0.25,0.25,0.25,0.3,0.3,0.3,0.35,0.35,0.4,0.4,0.45,0.45,0.5,0.6,0.75,0.95,1.25,1.7,2.4,3.2,4.1,5.4,6.4,6.8,6.9,
6.9,6.8,6.7,6.9,6.8,6.6,6.8,6.9,6.7,6.8,
6.9,6.7,6.8,6.6,6.8,6.9,6.8,6.7,6.9,6.8,
6.7,6.8,6.9,6.8,6.6,6.8,6.7,6.9,6.8,6.8,
6.7,6.9,6.8,6.7,6.8,6.9,6.8,6.6,6.8,6.9,
6.7,6.8,6.9,6.7,6.8,6.7];
const bcc30 = [0.1,0.1,0.1,0.15,0.15,0.15,0.15,0.2,0.2,0.2,0.2,0.25,0.25,0.25,0.3,0.3,0.3,0.35,0.35,0.35,0.4,0.4,0.45,0.5,0.6,0.75,0.95,1.25,1.7,2.4,3.2,4.1,5.6,6.8,7.2,7.3,
7.4,7.3,7.4,7.5,7.4,7.3,7.4,7.4,7.5,7.3,
7.4,7.4,7.3,7.5,7.4,7.4,7.3,7.4,7.5,7.4,
7.3,7.4,7.4,7.5,7.4,7.3,7.4,7.4,7.3,7.5,
7.4,7.4,7.3,7.4,7.5,7.4,7.3,7.4,7.4,7.5,
7.4,7.3,7.4,7.4,7.5];
const bcc31 = [0.1,0.1,0.1,0.1,0.15,0.15,0.15,0.15,0.2,0.2,0.2,0.2,0.25,0.25,0.25,0.3,0.3,0.3,0.3,0.35,0.35,0.4,0.4,0.45,0.45,0.5,0.6,0.75,0.95,1.25,1.7,2.4,3.2,4.1,5.6,6.7,7.0,7.1,
7.1,7.2,7.1,7.0,7.1,7.2,7.1,7.1,7.0,7.1,
7.2,7.1,7.0,7.1,7.1,7.2,7.1,7.0,7.1,7.2,
7.1,7.1,7.0,7.2,7.1,7.1,7.0,7.1,7.2,7.1,
7.1,7.0,7.1,7.2,7.1,7.0,7.1,7.1,7.2,7.1,
7.0,7.1,7.2];
const bcc32 = [0.1,0.1,0.1,0.1,0.15,0.15,0.15,0.15,0.15,0.2,0.2,0.2,0.2,0.25,0.25,0.25,0.25,0.3,0.3,0.3,0.35,0.35,0.35,0.4,0.4,0.45,0.5,0.55,0.7,0.85,1.1,1.5,2.0,2.8,3.6,4.8,6.2,6.9,7.0,
7.1,7.0,7.1,7.2,7.0,7.1,7.0,7.1,7.2,7.1,
7.0,7.1,7.1,7.2,7.0,7.1,7.0,7.1,7.1,7.2,
7.1,7.0,7.1,7.1,7.2,7.0,7.1,7.1,7.0,7.2,
7.1,7.1,7.0,7.1,7.2,7.1,7.0,7.1,7.1,7.2,
7.1,7.0];
const bcc33 = [0.1,0.1,0.1,0.1,0.1,0.15,0.15,0.15,0.15,0.2,0.2,0.2,0.2,0.25,0.25,0.25,0.3,0.3,0.3,0.3,0.35,0.35,0.4,0.4,0.4,0.45,0.45,0.5,0.55,0.7,0.85,1.1,1.5,2.0,2.8,3.6,4.8,6.2,6.9,7.1,
7.2,7.3,7.2,7.1,7.2,7.2,7.3,7.2,7.1,7.2,
7.3,7.2,7.2,7.1,7.2,7.3,7.2,7.2,7.1,7.2,
7.2,7.3,7.1,7.2,7.2,7.3,7.2,7.1,7.2,7.2,
7.3,7.2,7.2,7.1,7.2,7.3,7.2,7.2,7.1,7.3,
7.2];
const bcc34 = [0.1,0.1,0.1,0.1,0.1,0.1,0.15,0.15,0.15,0.15,0.2,0.2,0.2,0.2,0.25,0.25,0.25,0.25,0.3,0.3,0.3,0.35,0.35,0.35,0.4,0.4,0.45,0.45,0.5,0.55,0.7,0.85,1.1,1.5,2.0,2.8,3.6,4.8,6.2,7.0,7.2,
7.3,7.2,7.3,7.4,7.3,7.3,7.2,7.3,7.4,7.3,
7.2,7.3,7.3,7.4,7.3,7.2,7.3,7.3,7.4,7.3,
7.3,7.2,7.3,7.4,7.3,7.3,7.2,7.3,7.3,7.4,
7.3,7.2,7.3,7.3,7.4,7.3,7.3,7.2,7.3,7.4];

// ---------- styling ----------
const COLORS = {red:'#e41a1c', blue:'#377eb8', green:'#4daf4a', purple:'#984ea3', orange:'#ff7f00', brown:'#a65628'};
const tickFont = {family:"'Liberation Serif', serif", size:23};

// first entry is drawn on top
const fccLines = [[fccBrown1,'brown'],[fccPurple1,'purple'],[fccBrown2,'brown'],[fccGreen1,'green'],[fccPurple2,'purple'],
  [fccBlue1,'blue'],[fccRed1,'red'],[fccOrange1,'orange'],[fccRed2,'red'],[fccBlue2,'blue'],[fccGreen2,'green'],
  [fccOrange2,'orange'],[fccBrown3,'brown'],[fccPurple3,'purple'],[fccBlue3,'blue']];
const hcpLines = [[hcpBrown1,'brown'],[hcpRed1,'red'],[hcpBrown2,'brown'],[hcpPurple1,'purple'],[hcpPurple2,'purple'],
  [hcpBlue1,'blue'],[hcpOrange1,'orange'],[hcpRed2,'red'],[hcpGreen1,'green'],[hcpOrange2,'orange'],[hcpBlue2,'blue'],
  [hcpGreen2,'green'],[hcpPurple3,'purple'],[hcpBrown3,'brown']];
const bccLines = [[bccBrownSlowA,'brown'],[bccOrangeLate,'orange'],[bccPurpleSlowA,'purple'],[bccBrownSlowB,'brown'],[bccPurpleSlowB,'purple'],
  [bcc34,'blue'],[bcc33,'blue'],[bcc32,'green'],[bcc31,'blue'],[bcc30,'green'],[bcc29,'red'],[bcc28,'green'],[bcc27,'blue'],
  [bcc26,'red'],[bcc25,'orange'],[bcc24,'brown'],[bcc23,'green'],[bcc22,'red'],[bcc21,'orange'],[bcc20,'purple'],[bcc19,'brown'],
  [bcc18,'orange'],[bcc17,'blue'],[bcc16,'red'],[bcc15,'green'],[bcc14,'orange'],[bcc13,'brown'],[bcc12,'purple'],[bcc11,'red'],
  [bcc10,'orange'],[bcc09,'green'],[bcc08,'blue'],[bcc07,'brown'],[bcc06,'purple'],[bcc05,'blue'],[bcc04,'red'],[bcc03,'green'],
  [bcc02,'green'],[bcc01,'red']];

const framePlugin = {
  id:'frame',
  afterDatasetsDraw(chart){
    const {ctx, chartArea:a, scales:{x,y}} = chart;
    ctx.save();
    ctx.lineWidth = 1; ctx.strokeStyle = '#808080'; ctx.setLineDash([2.5,6]);
    ctx.beginPath();
    for (const t of x.ticks){ if (t.value<=x.min||t.value>=x.max) continue; const p=Math.round(x.getPixelForValue(t.value))+0.5; ctx.moveTo(p,a.top); ctx.lineTo(p,a.bottom); }
    for (const t of y.ticks){ if (t.value<=y.min||t.value>=y.max) continue; const p=Math.round(y.getPixelForValue(t.value))+0.5; ctx.moveTo(a.left,p); ctx.lineTo(a.right,p); }
    ctx.stroke();
    ctx.setLineDash([]);
    ctx.strokeStyle='#000'; ctx.lineWidth=1.5; const L=9;
    ctx.beginPath();
    for (const t of x.ticks){ const p=Math.round(x.getPixelForValue(t.value))+0.5; ctx.moveTo(p,a.bottom); ctx.lineTo(p,a.bottom-L); ctx.moveTo(p,a.top); ctx.lineTo(p,a.top+L); }
    for (const t of y.ticks){ const p=Math.round(y.getPixelForValue(t.value))+0.5; ctx.moveTo(a.left,p); ctx.lineTo(a.left+L,p); ctx.moveTo(a.right,p); ctx.lineTo(a.right-L,p); }
    ctx.stroke();
    ctx.lineWidth=2.2;
    ctx.strokeRect(a.left,a.top,a.right-a.left,a.bottom-a.top);
    ctx.restore();
  }
};

function makeChart(id, lines, yTicks, yFmt, padTop, xAxisH){
  const datasets = lines.map(([vals,col]) => ({
    data: times.map((t,i)=>({x:t,y:vals[i]})),
    borderColor: COLORS[col], borderWidth: 2.4, pointRadius: 0, fill:false, tension:0
  }));
  return new Chart(document.getElementById(id), {
    type:'line',
    data:{datasets},
    options:{
      responsive:false, animation:false, devicePixelRatio:1, events:[],
      layout:{padding:{left:0,right:50,top:padTop,bottom:0}},
      plugins:{legend:{display:false}, tooltip:{enabled:false}},
      scales:{
        x:{type:'linear', min:0, max:2000,
           afterBuildTicks:s=>{ s.ticks = xTickValues.map(v=>({value:v})); },
           afterFit:s=>{ s.height = xAxisH; },
           grid:{display:false, drawTicks:false}, border:{display:false},
           ticks:{color:'#000', font:tickFont, padding:6, maxRotation:0, autoSkip:false, callback:v=>String(v)}},
        y:{min:0, max:yTicks[yTicks.length-1],
           afterBuildTicks:s=>{ s.ticks = yTicks.map(v=>({value:v})); },
           afterFit:s=>{ s.width = 97; },
           grid:{display:false, drawTicks:false}, border:{display:false},
           ticks:{color:'#000', font:tickFont, padding:12, autoSkip:false, callback:yFmt}}
      }
    },
    plugins:[framePlugin]
  });
}

makeChart('c1', fccLines, fccTickValues, v=>Number(v).toFixed(1), 30, 38);
makeChart('c2', hcpLines, hcpTickValues, v=>Number(v).toFixed(1), 36, 32);
makeChart('c3', bccLines, bccTickValues, v=>String(v), 42, 80);
</script>
</body>
</html>
